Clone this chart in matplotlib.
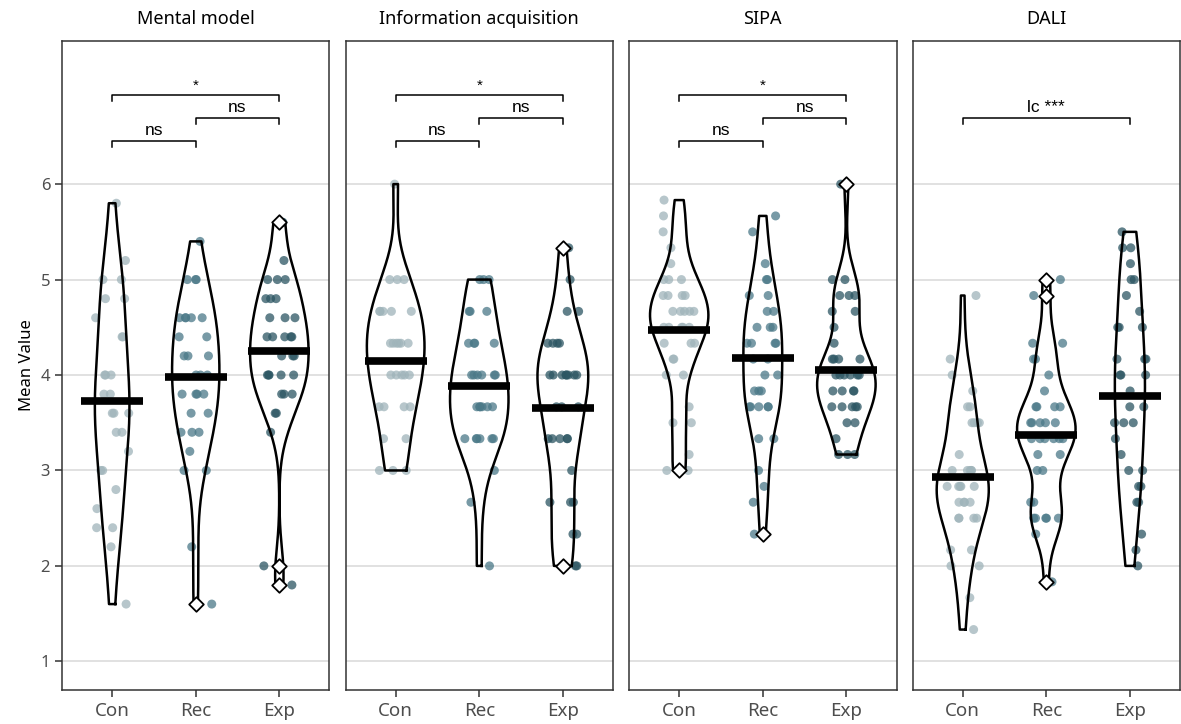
import numpy as np
import matplotlib
matplotlib.use("Agg")
import matplotlib.pyplot as plt

# ---- data ----
groups = ["Con", "Rec", "Exp"]
panel_titles = ["Mental model", "Information acquisition", "SIPA", "DALI"]

mental_con = [5.8, 5.2, 5.0, 5.0, 4.8, 4.8, 4.6, 4.4, 4.4, 4.0, 4.0, 4.0, 3.8, 3.8,
              3.6, 3.6, 3.6, 3.4, 3.4, 3.2, 3.0, 3.0, 2.8, 2.6, 2.4, 2.4, 2.2, 1.6]
mental_rec = [5.4, 5.0, 5.0, 5.0, 4.6, 4.6, 4.6, 4.6, 4.6, 4.4, 4.4, 4.2, 4.2, 4.2,
              4.0, 4.0, 4.0, 3.8, 3.8, 3.8, 3.8, 3.6, 3.6, 3.4, 3.4, 3.4, 3.2, 3.0,
              3.0, 2.2, 1.6]
mental_exp = [5.6, 5.6, 5.2, 5.0, 5.0, 5.0, 4.8, 4.8, 4.8, 4.6, 4.6, 4.6, 4.4, 4.4,
              4.4, 4.4, 4.4, 4.2, 4.2, 4.2, 4.0, 4.0, 4.0, 4.0, 4.0, 3.8, 3.8, 3.8,
              3.6, 3.6, 3.4, 2.0, 1.8]

info_con = [6.0, 5.0, 5.0, 5.0, 4.667, 4.667, 4.667, 4.667, 4.667, 4.333, 4.333,
            4.333, 4.333, 4.333, 4.333, 4.0, 4.0, 4.0, 4.0, 4.0, 3.667, 3.667,
            3.667, 3.667, 3.333, 3.333, 3.0, 3.0, 3.0]
info_rec = [5.0, 5.0, 5.0, 4.667, 4.667, 4.667, 4.333, 4.333, 4.333, 4.333, 4.0,
            4.0, 4.0, 4.0, 4.0, 4.0, 3.667, 3.667, 3.667, 3.667, 3.667, 3.667,
            3.333, 3.333, 3.333, 3.333, 3.333, 3.333, 3.0, 2.667, 2.0]
info_exp = [5.333, 5.0, 4.667, 4.667, 4.333, 4.333, 4.333, 4.333, 4.0, 4.0, 4.0,
            4.0, 4.0, 4.0, 4.0, 4.0, 3.667, 3.667, 3.667, 3.333, 3.333, 3.333,
            3.333, 3.333, 3.0, 2.667, 2.667, 2.667, 2.333, 2.333, 2.0, 2.0, 2.0]

sipa_con = [5.833, 5.667, 5.5, 5.333, 5.167, 5.0, 5.0, 5.0, 4.833, 4.833, 4.833,
            4.833, 4.667, 4.667, 4.667, 4.667, 4.667, 4.5, 4.5, 4.5, 4.5, 4.5,
            4.333, 4.333, 4.333, 4.167, 4.167, 4.0, 4.0, 3.667, 3.5, 3.5, 3.167,
            3.0, 3.0]
sipa_rec = [5.667, 5.5, 5.167, 5.0, 5.0, 4.833, 4.833, 4.667, 4.667, 4.5, 4.5,
            4.5, 4.333, 4.333, 4.333, 4.333, 4.167, 4.167, 4.0, 4.0, 3.833, 3.833,
            3.833, 3.667, 3.667, 3.667, 3.667, 3.667, 3.333, 3.333, 3.0, 2.833,
            2.667, 2.333]
sipa_exp = [6.0, 5.0, 5.0, 4.833, 4.833, 4.833, 4.667, 4.667, 4.5, 4.333, 4.167,
            4.167, 4.167, 4.167, 4.0, 4.0, 4.0, 4.0, 4.0, 4.0, 3.833, 3.833, 3.833,
            3.833, 3.667, 3.667, 3.667, 3.667, 3.667, 3.5, 3.5, 3.333, 3.167,
            3.167, 3.167]

dali_con = [4.833, 4.167, 4.0, 3.833, 3.667, 3.667, 3.5, 3.5, 3.5, 3.5, 3.167,
            3.0, 3.0, 3.0, 3.0, 3.0, 2.833, 2.833, 2.833, 2.833, 2.833, 2.667,
            2.667, 2.667, 2.667, 2.5, 2.5, 2.5, 2.5, 2.167, 2.167, 2.0, 2.0,
            1.667, 1.333]
dali_rec = [5.0, 4.833, 4.333, 4.333, 4.167, 4.167, 4.0, 3.833, 3.667, 3.667,
            3.667, 3.667, 3.5, 3.5, 3.5, 3.5, 3.5, 3.333, 3.333, 3.333, 3.333,
            3.333, 3.333, 3.167, 3.167, 3.0, 3.0, 2.667, 2.667, 2.5, 2.5, 2.5,
            2.5, 2.5, 2.333, 1.833]
dali_exp = [5.5, 5.333, 5.333, 5.167, 5.0, 5.0, 4.833, 4.667, 4.5, 4.5, 4.5,
            4.167, 4.167, 4.167, 4.0, 4.0, 4.0, 3.833, 3.667, 3.667, 3.5, 3.5,
            3.5, 3.333, 3.167, 3.0, 3.0, 2.833, 2.833, 2.667, 2.667, 2.333, 2.167,
            2.0]

panel_data = [
    [mental_con, mental_rec, mental_exp],
    [info_con, info_rec, info_exp],
    [sipa_con, sipa_rec, sipa_exp],
    [dali_con, dali_rec, dali_exp],
]

# group means (thick bars)
group_means = [
    [3.73, 3.98, 4.25],
    [4.15, 3.89, 3.65],
    [4.47, 4.18, 4.05],
    [2.93, 3.37, 3.78],
]

# outliers shown as white diamonds
outliers = [
    [[], [1.6], [5.6, 2.0, 1.8]],
    [[], [], [5.333, 2.0]],
    [[3.0], [2.333], [6.0]],
    [[], [5.0, 4.833, 1.833], []],
]

# significance brackets: (from group, to group, y level, label)
brackets = [
    [(1, 3, 6.93, "*"), (2, 3, 6.69, "ns"), (1, 2, 6.45, "ns")],
    [(1, 3, 6.93, "*"), (2, 3, 6.69, "ns"), (1, 2, 6.45, "ns")],
    [(1, 3, 6.93, "*"), (2, 3, 6.69, "ns"), (1, 2, 6.45, "ns")],
    [(1, 3, 6.69, "lc ***")],
]

point_colors = ["#9fb4ba", "#4b7988", "#2c5663"]

plt.rcParams["font.family"] = ["Noto Sans", "DejaVu Sans"]


def kde_nrd0(vals, grid):
    vals = np.asarray(vals, dtype=float)
    n = len(vals)
    sd = vals.std(ddof=1)
    q75, q25 = np.percentile(vals, [75, 25])
    lo = min(sd, (q75 - q25) / 1.34)
    if lo <= 0:
        lo = sd
    bw = 0.9 * lo * n ** (-0.2)
    z = (grid[:, None] - vals[None, :]) / bw
    return np.exp(-0.5 * z ** 2).sum(axis=1) / (n * bw * np.sqrt(2 * np.pi))


fig, axes = plt.subplots(1, 4, figsize=(11.81, 7.24), dpi=100, sharey=True)
fig.subplots_adjust(left=0.0525, right=0.9992, bottom=0.047, top=0.9434,
                    wspace=0.06)

rng = np.random.default_rng(7)
xpos = np.arange(1, 4)

for p, ax in enumerate(axes):
    data = panel_data[p]
    grids = [np.linspace(min(d), max(d), 512) for d in data]
    dens = [kde_nrd0(d, g) for d, g in zip(data, grids)]
    dmax = max(d.max() for d in dens)

    for i, (vals, g, dn) in enumerate(zip(data, grids, dens)):
        x0 = xpos[i]
        # jittered points
        jit = rng.uniform(-0.2, 0.2, len(vals))
        ax.scatter(x0 + jit, vals, s=42, color=point_colors[i], alpha=0.75,
                   edgecolors="none", zorder=2)
        # violin outline (area scaled within panel)
        w = 0.35 * dn / dmax
        xs = np.concatenate([x0 + w, (x0 - w)[::-1], [x0 + w[0]]])
        ys = np.concatenate([g, g[::-1], [g[0]]])
        ax.plot(xs, ys, color="black", lw=1.8, zorder=3)
        # mean bar
        ax.plot([x0 - 0.37, x0 + 0.37], [group_means[p][i]] * 2, color="black",
                lw=5.5, solid_capstyle="butt", zorder=4)
        # outliers
        if outliers[p][i]:
            ax.scatter([x0] * len(outliers[p][i]), outliers[p][i], marker="D",
                       s=55, facecolor="white", edgecolor="black", lw=1.3,
                       zorder=5)

    # significance brackets
    for a, b, yb, lab in brackets[p]:
        ax.plot([a, a, b, b], [yb - 0.06, yb, yb, yb - 0.06], color="black",
                lw=1.1, zorder=3)
        ax.text((a + b) / 2, yb + 0.03, lab, ha="center", va="bottom",
                fontsize=12.5 if lab != "*" else 11, family="Liberation Sans")

    ax.set_xlim(0.4, 3.6)
    ax.set_ylim(0.7, 7.5)
    ax.set_xticks(xpos)
    ax.set_xticklabels(groups)
    ax.set_yticks([1, 2, 3, 4, 5, 6])
    ax.grid(axis="y", color="#d9d9d9", lw=1.1)
    ax.set_axisbelow(True)
    ax.tick_params(axis="both", colors="#333333", labelcolor="#4d4d4d",
                   labelsize=13.5, length=5, width=1.1)
    ax.tick_params(axis="y", labelsize=12)
    if p > 0:
        ax.tick_params(axis="y", left=False, labelleft=False)
    for s in ax.spines.values():
        s.set_color("#333333")
        s.set_linewidth(1.1)
    ax.set_title(panel_titles[p], fontsize=13, pad=12)

axes[0].set_ylabel("Mean Value", fontsize=12)

fig.savefig("out.png", dpi=100)
